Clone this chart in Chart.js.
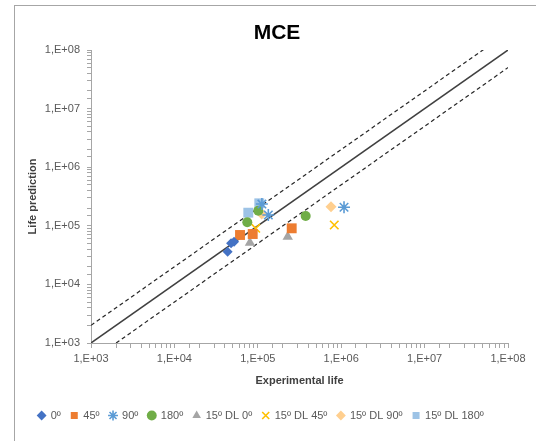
<!DOCTYPE html>
<html>
<head>
<meta charset="utf-8">
<script src="https://cdn.jsdelivr.net/npm/chart.js@4/dist/chart.umd.min.js"></script>
<style>
  html, body { margin: 0; padding: 0; background: #fff; }
  #wrap { position: relative; width: 536px; height: 441px; }
</style>
</head>
<body>
<div id="wrap"><canvas id="chart" width="536" height="441"></canvas></div>
<script>
// series labels
const seriesNames = ["0º", "45º", "90º", "180º", "15º DL 0º", "15º DL 45º", "15º DL 90º", "15º DL 180º"];

// experimental life (x) / life prediction (y)
const x0 = [43500, 47800, 51900];
const y0 = [36100, 50200, 53600];
const x45 = [61200, 86900, 255000];
const y45 = [69700, 72400, 90600];
const x90 = [112000, 133700, 1081000];
const y90 = [235000, 152800, 207000];
const x180 = [74800, 101400, 375000];
const y180 = [114800, 181000, 147000];
const xDl0 = [80500, 228500];
const yDl0 = [51500, 65200];
const xDl45 = [94400, 826000];
const yDl45 = [90600, 103000];
const xDl90 = [111400, 755000];
const yDl90 = [158900, 211800];
const xDl180 = [76900, 104200];
const yDl180 = [167400, 242000];

// reference lines: y = x and the factor-2 band
const lineX = [1e3, 1e8];
const bandFactor = 2;

const axisMin = 1e3;
const axisMax = 1e8;

const pts = (xs, ys) => xs.map((v, i) => ({ x: v, y: ys[i] }));

const styles = [
  { color: "#4472C4", shape: "rectRot", r: 5 },
  { color: "#ED7D31", shape: "rect", r: 7 },
  { color: "#5B9BD5", shape: "star", r: 6 },
  { color: "#70AD47", shape: "circle", r: 5 },
  { color: "#A5A5A5", shape: "triangle", r: 6 },
  { color: "#FFC000", shape: "crossRot", r: 6 },
  { color: "#FFCF8F", shape: "rectRot", r: 5.5 },
  { color: "#9DC3E6", shape: "rect", r: 7 },
];
const seriesData = [
  pts(x0, y0), pts(x45, y45), pts(x90, y90), pts(x180, y180),
  pts(xDl0, yDl0), pts(xDl45, yDl45), pts(xDl90, yDl90), pts(xDl180, yDl180),
];

const scatterSets = seriesNames.map((name, i) => ({
  type: "scatter",
  label: name,
  data: seriesData[i],
  pointStyle: styles[i].shape,
  pointRadius: styles[i].r,
  pointHoverRadius: styles[i].r,
  backgroundColor: styles[i].color,
  borderColor: styles[i].color,
  borderWidth: (styles[i].shape === "star" || styles[i].shape === "crossRot") ? 1.6 : 0,
  order: 1,
}));

const lineSets = [
  { data: lineX.map(v => ({ x: v, y: v })), borderColor: "#404040", borderWidth: 1.5, borderDash: [] },
  { data: lineX.map(v => ({ x: v, y: v * bandFactor })), borderColor: "#262626", borderWidth: 1.2, borderDash: [4, 3] },
  { data: lineX.map(v => ({ x: v * bandFactor, y: v })), borderColor: "#262626", borderWidth: 1.2, borderDash: [4, 3] },
].map(s => ({
  type: "line", label: "", data: s.data, borderColor: s.borderColor, borderWidth: s.borderWidth,
  borderDash: s.borderDash, pointRadius: 0, fill: false, order: 2, clip: 0,
}));

const frame = {
  id: "frame",
  beforeDraw(chart) {
    const ctx = chart.ctx;
    ctx.save();
    ctx.fillStyle = "#fff";
    ctx.fillRect(0, 0, chart.width, chart.height);
    ctx.strokeStyle = "#A6A6A6";
    ctx.lineWidth = 1;
    ctx.strokeRect(14.5, 5.5, 700, 600);
    ctx.fillStyle = "#000";
    ctx.font = "bold 21px 'Liberation Sans', Arial, sans-serif";
    ctx.textAlign = "center";
    ctx.textBaseline = "middle";
    ctx.fillText("MCE", 277, 33);
    ctx.restore();
  }
};

const sup = v => {
  const e = Math.log10(v);
  if (Math.abs(e - Math.round(e)) > 1e-9) return "";
  const n = Math.round(e);
  return "1,E+" + (n < 10 ? "0" + n : n);
};

const PAD_BOTTOM = 10;
const CHART_BOTTOM = 343;

new Chart(document.getElementById("chart"), {
  data: { datasets: lineSets.concat(scatterSets) },
  plugins: [frame],
  options: {
    responsive: false,
    animation: false,
    layout: { padding: { left: 14, top: 50, right: 28, bottom: PAD_BOTTOM } },
    plugins: {
      title: { display: false },
      tooltip: { enabled: false },
      legend: {
        position: "bottom",
        labels: {
          usePointStyle: true,
          boxWidth: 7,
          boxHeight: 7,
          padding: 10,
          color: "#595959",
          font: { family: "'Liberation Sans', Arial, sans-serif", size: 11 },
          filter: item => item.text !== "",
        },
      },
    },
    scales: {
      x: {
        type: "logarithmic",
        min: axisMin,
        max: axisMax,
        afterFit: s => { s.height = s.chart.height - PAD_BOTTOM - s.chart.legend.height - CHART_BOTTOM; },
        border: { color: "#A6A6A6" },
        grid: { drawOnChartArea: false, tickLength: 5, color: "#A6A6A6" },
        ticks: {
          autoSkip: false, maxRotation: 0, padding: 4, color: "#595959",
          font: { family: "'Liberation Sans', Arial, sans-serif", size: 11 },
          callback: v => sup(v),
        },
        title: {
          display: true, text: "Experimental life", color: "#404040",
          font: { family: "'Liberation Sans', Arial, sans-serif", size: 11, weight: "bold" },
          padding: { top: 4, bottom: 12 },
        },
      },
      y: {
        type: "logarithmic",
        min: axisMin,
        max: axisMax,
        afterFit: s => { s.width = 77; },
        border: { color: "#A6A6A6" },
        grid: { drawOnChartArea: false, tickLength: 4, color: "#A6A6A6" },
        ticks: {
          autoSkip: false, padding: 7, color: "#595959",
          font: { family: "'Liberation Sans', Arial, sans-serif", size: 11 },
          callback: v => sup(v),
        },
        title: {
          display: true, text: "Life prediction", color: "#404040",
          font: { family: "'Liberation Sans', Arial, sans-serif", size: 11, weight: "bold" },
          padding: { top: 12, bottom: 4 },
        },
      },
    },
  },
});
</script>
</body>
</html>
